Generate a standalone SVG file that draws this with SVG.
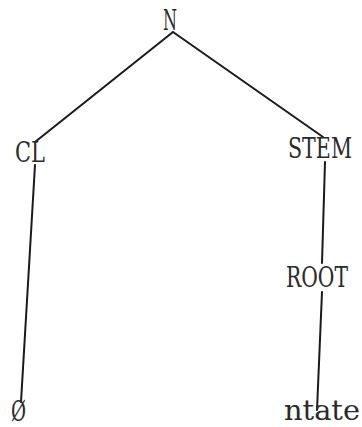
<svg xmlns="http://www.w3.org/2000/svg" width="362" height="427" viewBox="0 0 362 427">
<style>
.lbl{font-family:"DejaVu Serif Condensed","DejaVu Serif","Liberation Serif",serif;font-size:28px;fill:#2a2a2a;text-anchor:start}
.edge{stroke:#1a1a1a;stroke-width:2;fill:none;stroke-linecap:round}
</style>
<rect width="362" height="427" fill="#ffffff"/>
<g id="connectors">
<line class="edge" x1="173" y1="32" x2="35" y2="142"/>
<line class="edge" x1="173" y1="32" x2="323" y2="137"/>
<line class="edge" x1="35" y1="165" x2="21" y2="402"/>
<line class="edge" x1="325" y1="162" x2="322" y2="263"/>
<line class="edge" x1="322" y1="292" x2="317" y2="410"/>
</g>
<g id="node-N"><text class="lbl" x="163" y="29.5" textLength="14" lengthAdjust="spacingAndGlyphs">N</text></g>
<g id="node-CL"><text class="lbl" x="15" y="162" textLength="30" lengthAdjust="spacingAndGlyphs">CL</text></g>
<g id="node-STEM"><text class="lbl" x="288" y="158" textLength="64" lengthAdjust="spacingAndGlyphs">STEM</text></g>
<g id="node-ROOT"><text class="lbl" x="286" y="287" textLength="62" lengthAdjust="spacingAndGlyphs">ROOT</text></g>
<g id="node-zero"><text class="lbl" x="11" y="421" textLength="15" lengthAdjust="spacingAndGlyphs">Ø</text></g>
<g id="node-ntate"><text class="lbl" x="284" y="420" textLength="76" lengthAdjust="spacingAndGlyphs">ntate</text></g>
</svg>
